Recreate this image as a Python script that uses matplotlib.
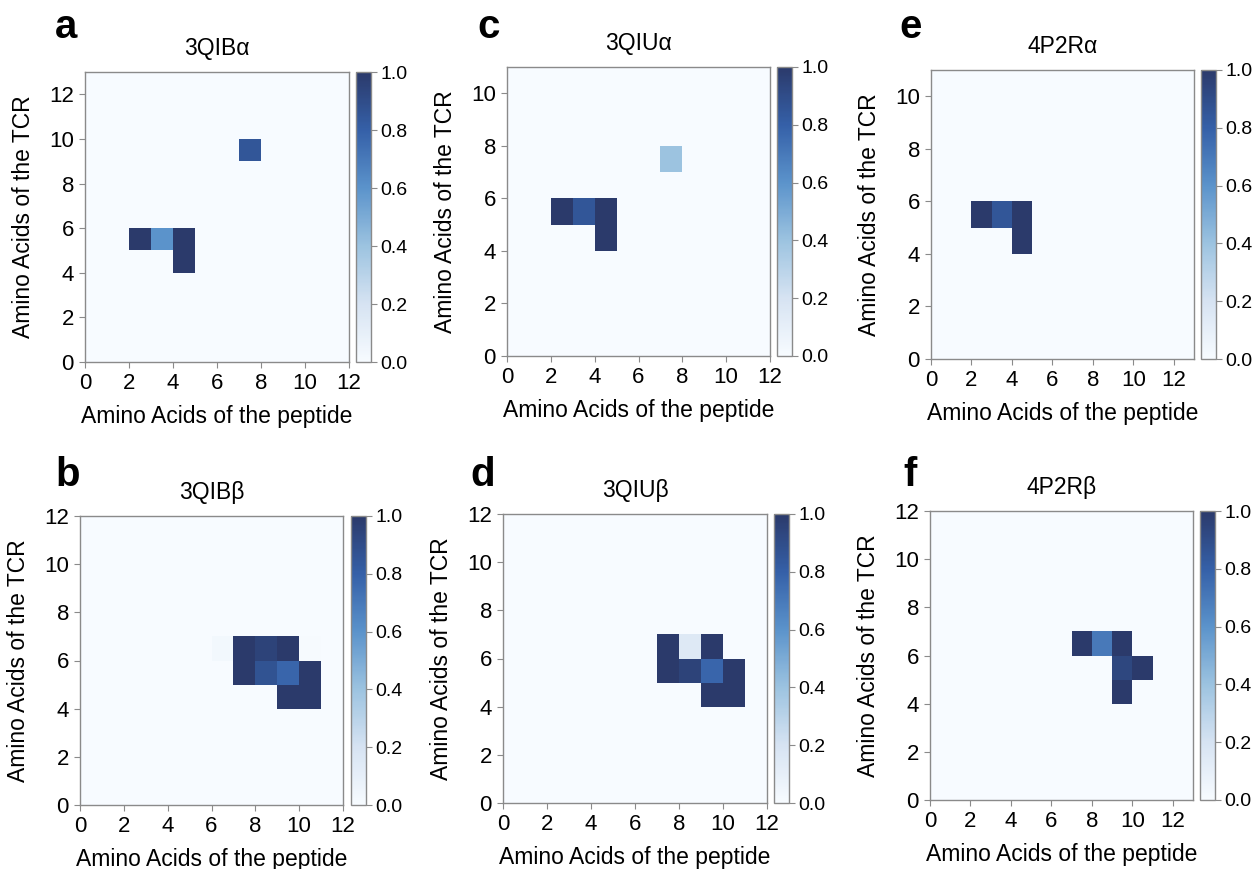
import numpy as np
import matplotlib
matplotlib.use("Agg")
import matplotlib.pyplot as plt
from matplotlib.colors import LinearSegmentedColormap

plt.rcParams['font.family'] = ['Liberation Sans', 'DejaVu Sans']

# panel data: grid size (nx, ny) and non-zero cells as (x, y, value)
letters = ['a', 'c', 'e', 'b', 'd', 'f']
titles = ['3QIBα', '3QIUα', '4P2Rα', '3QIBβ', '3QIUβ', '4P2Rβ']
grid_nx = [12, 12, 13, 12, 12, 13]
grid_ny = [13, 11, 11, 12, 12, 12]

cells_a = [(2, 5, 1.0), (3, 5, 0.6), (4, 5, 1.0), (4, 4, 1.0), (7, 9, 0.85)]
cells_c = [(2, 5, 1.0), (3, 5, 0.85), (4, 5, 1.0), (4, 4, 1.0), (7, 7, 0.4)]
cells_e = [(2, 5, 1.0), (3, 5, 0.85), (4, 5, 1.0), (4, 4, 1.0)]
cells_b = [(6, 6, 0.03), (7, 6, 1.0), (8, 6, 0.95), (9, 6, 1.0), (10, 6, 0.01),
           (7, 5, 1.0), (8, 5, 0.87), (9, 5, 0.78), (10, 5, 1.0),
           (9, 4, 1.0), (10, 4, 1.0)]
cells_d = [(7, 6, 1.0), (8, 6, 0.15), (9, 6, 1.0),
           (7, 5, 1.0), (8, 5, 0.95), (9, 5, 0.78), (10, 5, 1.0),
           (9, 4, 1.0), (10, 4, 1.0)]
cells_f = [(7, 6, 1.0), (8, 6, 0.7), (9, 6, 1.0),
           (9, 5, 0.93), (10, 5, 1.0), (9, 4, 1.0)]
all_cells = [cells_a, cells_c, cells_e, cells_b, cells_d, cells_f]

# axes boxes in pixels: left, right, top, bottom, colorbar left, colorbar right
boxes = [
    (85, 349, 72, 362, 356, 371),
    (507, 770, 67, 356, 777, 792),
    (931, 1194, 70, 359, 1201, 1216),
    (80, 343, 516, 805, 351, 366),
    (503, 767, 514, 803, 774, 789),
    (930, 1193, 511, 800, 1200, 1215),
]
letter_pos = [(55, 27), (477, 27), (899, 27), (55, 475), (470, 475), (903, 475)]

W, H = 1256, 869
cmap = LinearSegmentedColormap.from_list(
    'blues_nav', ['#f7fbff', '#d6e3f2', '#9cc3e0', '#5b93cb', '#3560a8', '#2b3a6b'])

fig = plt.figure(figsize=(W / 100, H / 100), dpi=100)
spine_col = '#8a8a8a'

for i in range(6):
    l, r, t, b, cl, cr = boxes[i]
    ax = fig.add_axes([l / W, 1 - b / H, (r - l) / W, (b - t) / H])
    cax = fig.add_axes([cl / W, 1 - b / H, (cr - cl) / W, (b - t) / H])

    nx, ny = grid_nx[i], grid_ny[i]
    z = np.zeros((ny, nx))
    for x, y, v in all_cells[i]:
        z[y, x] = v
    mesh = ax.pcolormesh(np.arange(nx + 1), np.arange(ny + 1), z,
                         cmap=cmap, vmin=0, vmax=1, shading='flat')
    ax.set_xlim(0, nx)
    ax.set_ylim(0, ny)
    ax.set_xticks(range(0, 13, 2))
    ax.set_yticks(range(0, ny + 1 if ny % 2 == 0 else ny, 2))
    ax.tick_params(labelsize=16, length=4, width=0.8, color=spine_col, pad=4)
    for s in ax.spines.values():
        s.set_color(spine_col)
        s.set_linewidth(1)
    ax.set_xlabel('Amino Acids of the peptide', fontsize=16.5, labelpad=8)
    ax.set_ylabel('Amino Acids of the TCR', fontsize=16.5, labelpad=10)
    ax.set_title(titles[i], fontsize=16.5, pad=12)

    cb = fig.colorbar(mesh, cax=cax, ticks=[0, 0.2, 0.4, 0.6, 0.8, 1.0])
    cb.ax.set_yticklabels(['0.0', '0.2', '0.4', '0.6', '0.8', '1.0'])
    cb.ax.tick_params(labelsize=14, length=4, width=0.8, color=spine_col, pad=3)
    cb.outline.set_edgecolor(spine_col)
    cb.outline.set_linewidth(1)

    lx, ly = letter_pos[i]
    fig.text(lx / W, 1 - ly / H, letters[i], fontsize=29, fontweight='bold',
             va='center', ha='left')

fig.savefig('out.png', dpi=100)
